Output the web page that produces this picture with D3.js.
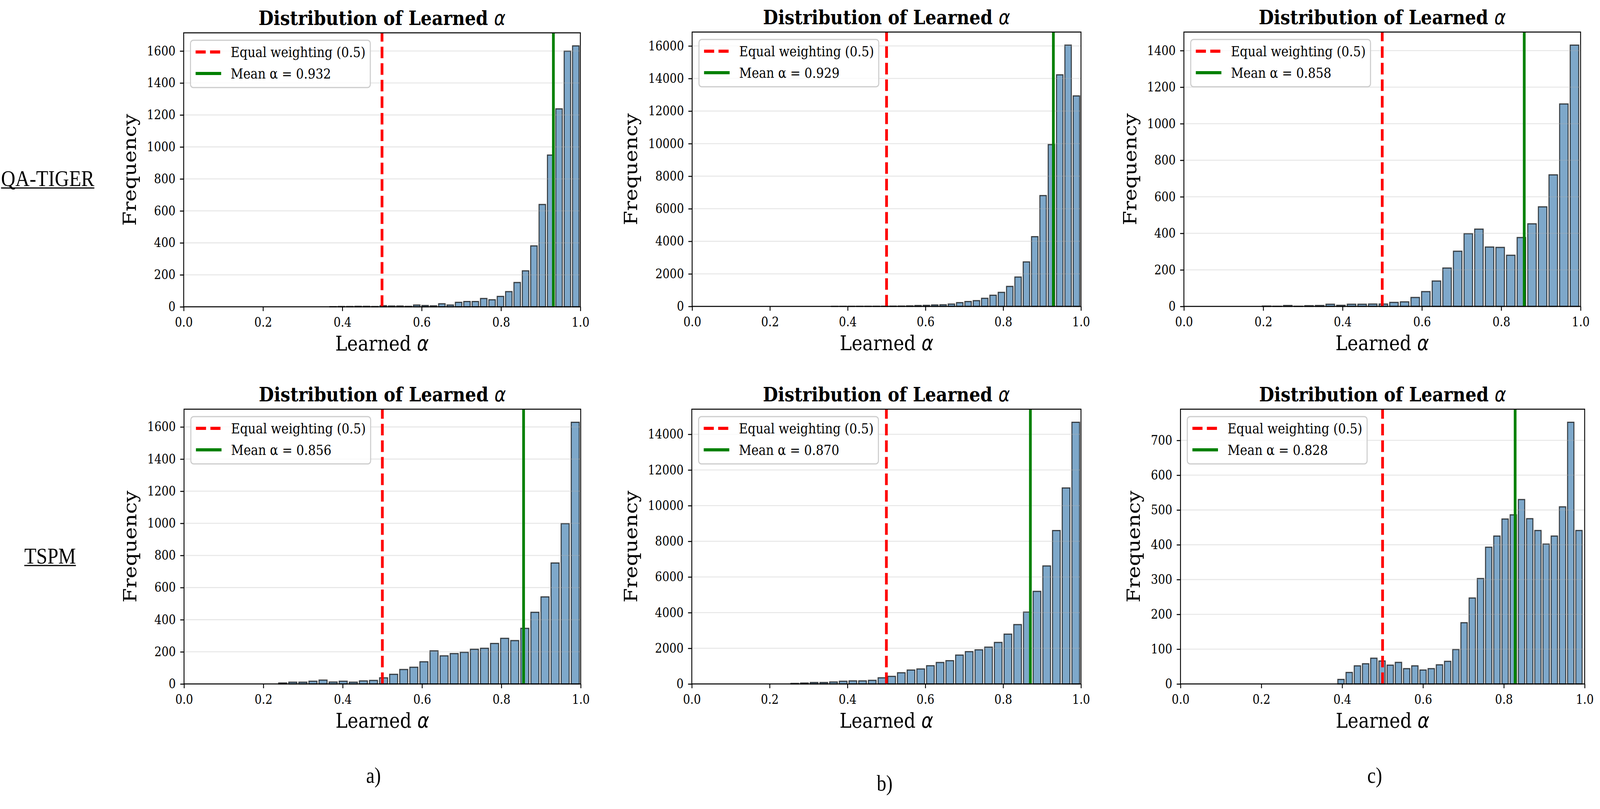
<!DOCTYPE html>
<html>
<head>
<meta charset="utf-8">
<script src="https://cdn.jsdelivr.net/npm/d3@7/dist/d3.min.js"></script>
<style>
  html, body { margin: 0; padding: 0; background: #fff; overflow: hidden; }
  svg { display: block; width: 100vw; height: 100vh; }
</style>
</head>
<body>
<script>
// Valeurs
const xTicks = [0, 0.2, 0.4, 0.6, 0.8, 1.0]
const rowLabels = ['QA-TIGER', 'TSPM']
const colLabels = ['a)', 'b)', 'c)']

// bornes des 30 classes de chaque histogramme
const binLo = [0.366, 0.356, 0.195, 0.236, 0.252, 0.387]
const binHi = [0.999, 0.999, 0.998, 0.999, 0.999, 0.996]
const means = [0.932, 0.929, 0.858, 0.856, 0.870, 0.828]

const countsQaA = [1, 2, 2, 3, 3, 2, 7, 5, 5, 3, 11, 8, 6, 19, 11, 28, 33, 33, 52, 44, 65, 95, 152, 225, 381, 640, 949, 1238, 1599, 1632]
const countsQaB = [3, 4, 6, 8, 10, 12, 14, 18, 22, 33, 55, 66, 89, 100, 144, 232, 299, 354, 498, 686, 863, 1229, 1804, 2734, 4284, 6808, 9941, 14225, 16050, 12930]
const countsQaC = [2, 1, 5, 1, 4, 5, 12, 6, 12, 12, 13, 13, 22, 25, 49, 81, 139, 210, 302, 398, 423, 325, 323, 280, 377, 452, 545, 720, 1108, 1430]
const countsTsA = [6, 11, 11, 17, 24, 12, 17, 11, 19, 22, 38, 60, 90, 104, 138, 206, 175, 189, 197, 216, 222, 252, 284, 270, 346, 446, 542, 753, 998, 1629]
const countsTsB = [30, 51, 81, 81, 111, 152, 172, 172, 202, 344, 425, 627, 779, 840, 1022, 1204, 1305, 1619, 1811, 1913, 2064, 2328, 2793, 3329, 4028, 5192, 6618, 8602, 10990, 14674]
const countsTsC = [13, 33, 52, 58, 74, 66, 54, 62, 44, 52, 40, 44, 55, 65, 99, 176, 247, 303, 393, 425, 474, 486, 530, 475, 441, 402, 425, 509, 752, 441]

const yTicksQaA = [0, 200, 400, 600, 800, 1000, 1200, 1400, 1600]
const yTicksQaB = [0, 2000, 4000, 6000, 8000, 10000, 12000, 14000, 16000]
const yTicksQaC = [0, 200, 400, 600, 800, 1000, 1200, 1400]
const yTicksTsA = [0, 200, 400, 600, 800, 1000, 1200, 1400, 1600]
const yTicksTsB = [0, 2000, 4000, 6000, 8000, 10000, 12000, 14000]
const yTicksTsC = [0, 100, 200, 300, 400, 500, 600, 700]

const counts = [countsQaA, countsQaB, countsQaC, countsTsA, countsTsB, countsTsC]
const yTicks = [yTicksQaA, yTicksQaB, yTicksQaC, yTicksTsA, yTicksTsB, yTicksTsC]

// Position des axes de chaque panneau (px)
const boxes = [
  { l: 539, r: 1703, t: 84, b: 785 },
  { l: 2031, r: 3172, t: 82, b: 784 },
  { l: 3474, r: 4638, t: 82, b: 784 },
  { l: 540, r: 1704, t: 1047, b: 1750 },
  { l: 2030, r: 3172, t: 1047, b: 1750 },
  { l: 3464, r: 4650, t: 1047, b: 1750 }
]

// Le svg remplit toute la fenêtre
const svg = d3.select('body')
  .append('svg')
  .attr('viewBox', '0 0 4695 2070')
  .attr('preserveAspectRatio', 'none')
  .style('font-family', "'DejaVu Serif', serif")

svg.append('rect').attr('width', 4695).attr('height', 2070).attr('fill', '#fff')

boxes.forEach((b, i) => {
  const g = svg.append('g')
  const x = d3.scaleLinear().domain([0, 1]).range([b.l, b.r])
  const y = d3.scaleLinear().domain([0, d3.max(counts[i]) * 1.05]).range([b.b, b.t])
  const w = (binHi[i] - binLo[i]) / counts[i].length
  const bins = counts[i].map((c, k) => ({ x0: binLo[i] + k * w, x1: binLo[i] + (k + 1) * w, c }))

  // Barres
  g.selectAll('rect.bar')
    .data(bins)
    .enter()
    .append('rect')
      .attr('class', 'bar')
      .attr('x', d => x(d.x0) + (x(d.x1) - x(d.x0)) * 0.05 + 1.5)
      .attr('width', d => (x(d.x1) - x(d.x0)) * 0.9 - 3)
      .attr('y', d => y(d.c))
      .attr('height', d => y(0) - y(d.c))
      .attr('fill', '#7ea8ca')
      .attr('stroke', '#000')
      .attr('stroke-opacity', 0.7)
      .attr('stroke-width', 3)

  // Grille horizontale
  g.selectAll('line.grid')
    .data(yTicks[i])
    .enter()
    .append('line')
      .attr('x1', b.l).attr('x2', b.r)
      .attr('y1', d => y(d)).attr('y2', d => y(d))
      .attr('stroke', '#b0b0b0')
      .attr('stroke-opacity', 0.3)
      .attr('stroke-width', 2.6)

  // Axes
  const ax = g.append('g')
    .attr('transform', `translate(${b.l},0)`)
    .call(d3.axisLeft(y).tickValues(yTicks[i]).tickFormat(d3.format('d')).tickSize(11).tickPadding(13))
  const bx = g.append('g')
    .attr('transform', `translate(0,${b.b})`)
    .call(d3.axisBottom(x).tickValues(xTicks).tickFormat(d3.format('.1f')).tickSize(11).tickPadding(17))
  ;[ax, bx].forEach(a => {
    a.select('.domain').remove()
    a.selectAll('line').attr('stroke-width', 2.6)
    a.selectAll('text').attr('font-size', 33).attr('font-family', "'DejaVu Serif', serif").attr('fill', '#000')
  })

  // Lignes verticales
  g.append('line')
    .attr('x1', x(0.5)).attr('x2', x(0.5))
    .attr('y1', b.b).attr('y2', b.t)
    .attr('stroke', '#ff0000')
    .attr('stroke-width', 8)
    .attr('stroke-dasharray', '29.6,12.8')
  g.append('line')
    .attr('x1', x(means[i])).attr('x2', x(means[i]))
    .attr('y1', b.b).attr('y2', b.t)
    .attr('stroke', '#008000')
    .attr('stroke-width', 8)

  // Cadre
  g.append('rect')
    .attr('x', b.l).attr('y', b.t)
    .attr('width', b.r - b.l).attr('height', b.b - b.t)
    .attr('fill', 'none')
    .attr('stroke', '#000')
    .attr('stroke-width', 2.6)

  const cx = (b.l + b.r) / 2

  // Titre
  const title = g.append('text')
    .attr('x', cx).attr('y', b.t - 20)
    .attr('text-anchor', 'middle')
    .attr('font-size', 51)
    .attr('font-weight', 'bold')
    .text('Distribution of Learned ')
  title.append('tspan')
    .attr('font-family', "'DejaVu Sans', sans-serif")
    .attr('font-style', 'italic')
    .attr('font-weight', 'normal')
    .text('α')

  // Etiquette x
  const xl = g.append('text')
    .attr('x', cx).attr('y', b.b + 112)
    .attr('text-anchor', 'middle')
    .attr('font-size', 53)
    .text('Learned ')
  xl.append('tspan')
    .attr('font-family', "'DejaVu Sans', sans-serif")
    .attr('font-style', 'italic')
    .text('α')

  // Etiquette y, placée à gauche des graduations
  let tickW = 0
  ax.selectAll('text').each(function () { tickW = Math.max(tickW, this.getComputedTextLength()) })
  const ylx = b.l - 11 - 13 - tickW - 32
  g.append('text')
    .attr('transform', `translate(${ylx},${(b.t + b.b) / 2}) rotate(-90)`)
    .attr('text-anchor', 'middle')
    .attr('font-size', 53)
    .text('Frequency')

  // Légende
  const lg = g.append('g').attr('transform', `translate(${b.l + 20},${b.t + 19})`)
  const box = lg.append('rect')
    .attr('height', 121)
    .attr('rx', 8)
    .attr('fill', '#fff')
    .attr('fill-opacity', 0.8)
    .attr('stroke', '#cccccc')
    .attr('stroke-width', 3)
  lg.append('line')
    .attr('x1', 15).attr('x2', 90).attr('y1', 30).attr('y2', 30)
    .attr('stroke', '#ff0000').attr('stroke-width', 8)
    .attr('stroke-dasharray', '29.6,12.8')
  lg.append('line')
    .attr('x1', 15).attr('x2', 90).attr('y1', 85).attr('y2', 85)
    .attr('stroke', '#008000').attr('stroke-width', 8)
  const t1 = lg.append('text').attr('x', 118).attr('y', 43).attr('font-size', 36).text('Equal weighting (0.5)')
  const t2 = lg.append('text').attr('x', 118).attr('y', 98).attr('font-size', 36).text(`Mean α = ${means[i].toFixed(3)}`)
  const tw = Math.max(t1.node().getComputedTextLength(), t2.node().getComputedTextLength())
  box.attr('width', 118 + tw + 14)
})

// Noms des modèles (lignes) et des colonnes
const rowPos = [{ x: 140, y: 476 }, { x: 147, y: 1442 }]
rowLabels.forEach((txt, k) => {
  const t = svg.append('text')
    .attr('x', rowPos[k].x).attr('y', rowPos[k].y)
    .attr('text-anchor', 'middle')
    .attr('font-family', "'Liberation Serif', serif")
    .attr('font-size', 58)
    .text(txt)
  const len = t.node().getComputedTextLength()
  svg.append('line')
    .attr('x1', rowPos[k].x - len / 2).attr('x2', rowPos[k].x + len / 2)
    .attr('y1', rowPos[k].y + 5).attr('y2', rowPos[k].y + 5)
    .attr('stroke', '#000').attr('stroke-width', 3)
})

const colPos = [{ x: 1096, y: 2003 }, { x: 2596, y: 2023 }, { x: 4034, y: 2003 }]
colLabels.forEach((txt, k) => {
  svg.append('text')
    .attr('x', colPos[k].x).attr('y', colPos[k].y)
    .attr('text-anchor', 'middle')
    .attr('font-family', "'Liberation Serif', serif")
    .attr('font-size', 56)
    .text(txt)
})
</script>
</body>
</html>
